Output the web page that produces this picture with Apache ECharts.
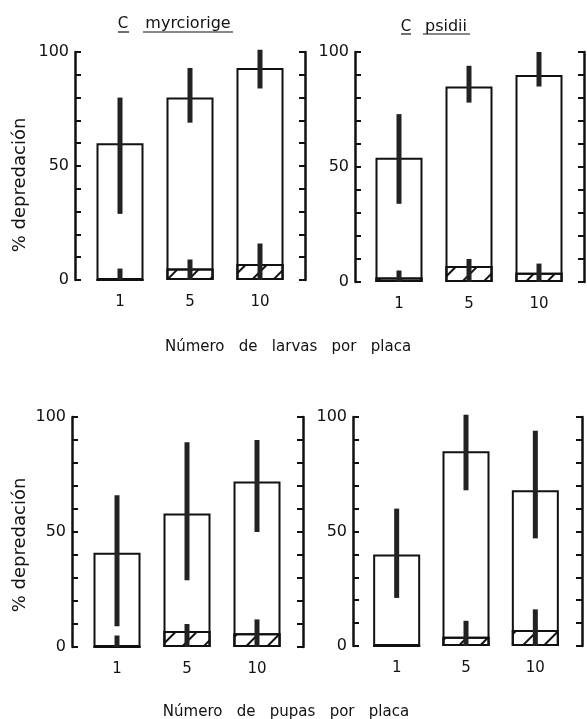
<!DOCTYPE html>
<html>
<head>
<meta charset="utf-8">
<script src="https://cdn.jsdelivr.net/npm/echarts@6/dist/echarts.min.js"></script>
<style>
  html, body { margin: 0; padding: 0; background: #fff; }
  #chart { width: 587px; height: 719px; }
</style>
</head>
<body>
<div id="chart"></div>
<script>
// categorias (numero de individuos por placa)
const categories = ['1', '5', '10'];
const yTickLabels = [0, 50, 100];

// larvas - C. myrciorige
const larvasMyrMean = [60, 80, 93];
const larvasMyrLow = [29, 69, 84];
const larvasMyrHigh = [80, 93, 101];
const larvasMyrHatch = [0, 5, 7];
const larvasMyrHatchHigh = [5, 9, 16];

// larvas - C. psidii
const larvasPsiMean = [54, 85, 90];
const larvasPsiLow = [34, 78, 85];
const larvasPsiHigh = [73, 94, 100];
const larvasPsiHatch = [2, 7, 4];
const larvasPsiHatchHigh = [5, 10, 8];

// pupas - C. myrciorige
const pupasMyrMean = [41, 58, 72];
const pupasMyrLow = [9, 29, 50];
const pupasMyrHigh = [66, 89, 90];
const pupasMyrHatch = [0, 7, 6];
const pupasMyrHatchHigh = [5, 10, 12];

// pupas - C. psidii
const pupasPsiMean = [40, 85, 68];
const pupasPsiLow = [21, 68, 47];
const pupasPsiHigh = [60, 101, 94];
const pupasPsiHatch = [0, 4, 7];
const pupasPsiHatchHigh = [null, 11, 16];

const FONT = 'DejaVu Sans';
const INK = '#111';

const chart = echarts.init(document.getElementById('chart'), null, { renderer: 'canvas' });

const grids = [], xAxes = [], yAxes = [], series = [];

// dibuja barras de error verticales gruesas
function errorRender(params, api) {
  const x = api.value(0);
  const lo = api.coord([x, api.value(1)]);
  const hi = api.coord([x, api.value(2)]);
  return {
    type: 'line',
    shape: { x1: lo[0], y1: lo[1], x2: hi[0], y2: hi[1] },
    style: { stroke: '#222', lineWidth: 5 }
  };
}

function addPanel(box, mean, low, high, hatch, hatchHigh) {
  const i = grids.length;
  grids.push({ left: box.left, top: box.top, width: box.width, height: box.height });
  xAxes.push({
    type: 'category', gridIndex: i, data: categories,
    axisLine: { show: false }, axisTick: { show: false },
    axisLabel: { margin: 15, fontSize: 15, color: INK, fontFamily: FONT }
  });
  const yBase = {
    type: 'value', gridIndex: i, min: 0, max: 100, interval: 10,
    splitLine: { show: false },
    axisLine: { show: true, lineStyle: { color: INK, width: 2.5 } },
    axisTick: { show: true, inside: true, length: 6, lineStyle: { color: INK, width: 2 } }
  };
  yAxes.push(Object.assign({}, yBase, {
    position: 'left', offset: box.offL,
    axisLabel: {
      margin: 6, fontSize: 16, color: INK, fontFamily: FONT,
      formatter: v => (yTickLabels.indexOf(v) >= 0 ? String(v) : '')
    }
  }));
  yAxes.push(Object.assign({}, yBase, {
    position: 'right', offset: box.offR, axisLabel: { show: false }
  }));
  const yi = yAxes.length - 2;

  series.push({
    type: 'bar', xAxisIndex: i, yAxisIndex: yi, data: mean,
    barWidth: 47, barGap: '-100%', silent: true,
    itemStyle: { color: '#fff', borderColor: INK, borderWidth: 2 }
  });
  series.push({
    type: 'bar', xAxisIndex: i, yAxisIndex: yi, data: hatch,
    barWidth: 47, barGap: '-100%', silent: true,
    itemStyle: {
      color: '#fff', borderColor: INK, borderWidth: 2,
      decal: {
        symbol: 'rect', color: INK, dashArrayX: [1, 0], dashArrayY: [2, 13],
        rotation: -Math.PI / 4
      }
    }
  });
  series.push({
    type: 'custom', xAxisIndex: i, yAxisIndex: yi, clip: false, silent: true,
    renderItem: errorRender, encode: { x: 0, y: [1, 2] }, z: 5,
    data: categories.map((c, k) => [k, low[k], high[k]])
  });
  series.push({
    type: 'custom', xAxisIndex: i, yAxisIndex: yi, clip: false, silent: true,
    renderItem: errorRender, encode: { x: 0, y: [1, 2] }, z: 5,
    data: categories.map((c, k) => [k, 0, hatchHigh[k]]).filter(d => d[2] != null && d[2] > 0)
  });
}

addPanel({ left: 85, top: 52, width: 210, height: 228, offL: 10, offR: 10 },
  larvasMyrMean, larvasMyrLow, larvasMyrHigh, larvasMyrHatch, larvasMyrHatchHigh);
addPanel({ left: 364, top: 52, width: 210, height: 230, offL: 9, offR: 10 },
  larvasPsiMean, larvasPsiLow, larvasPsiHigh, larvasPsiHatch, larvasPsiHatchHigh);
addPanel({ left: 82, top: 417, width: 210, height: 230, offL: 10, offR: 11 },
  pupasMyrMean, pupasMyrLow, pupasMyrHigh, pupasMyrHatch, pupasMyrHatchHigh);
addPanel({ left: 362, top: 417, width: 208, height: 229, offL: 9, offR: 12 },
  pupasPsiMean, pupasPsiLow, pupasPsiHigh, pupasPsiHatch, pupasPsiHatchHigh);

const txt = (x, y, text, extra) => ({
  type: 'text', x: x, y: y,
  style: Object.assign({ text: text, font: '15px "' + FONT + '"', fill: INK, align: 'center', verticalAlign: 'middle' }, extra || {})
});
const uline = (x1, x2, y) => ({
  type: 'line', shape: { x1: x1, y1: y, x2: x2, y2: y }, style: { stroke: INK, lineWidth: 1.2 }
});

const graphics = [
  txt(123, 24, 'C'), uline(118, 129, 32),
  txt(188, 24, 'myrciorige', { font: '16px "' + FONT + '"' }), uline(143, 233, 32),
  txt(406, 27, 'C'), uline(401, 411, 34),
  txt(446, 27, 'psidii', { font: '16px "' + FONT + '"' }), uline(423, 470, 34),
  txt(288, 347, 'Número   de   larvas   por   placa'),
  txt(286, 712, 'Número   de   pupas   por   placa'),
  Object.assign(txt(20, 185, '% depredación', { font: '18px "' + FONT + '"' }), { rotation: Math.PI / 2 }),
  Object.assign(txt(20, 545, '% depredación', { font: '18px "' + FONT + '"' }), { rotation: Math.PI / 2 })
];

chart.setOption({
  backgroundColor: '#fff',
  animation: false,
  grid: grids,
  xAxis: xAxes,
  yAxis: yAxes,
  series: series,
  graphic: graphics
});
</script>
</body>
</html>
